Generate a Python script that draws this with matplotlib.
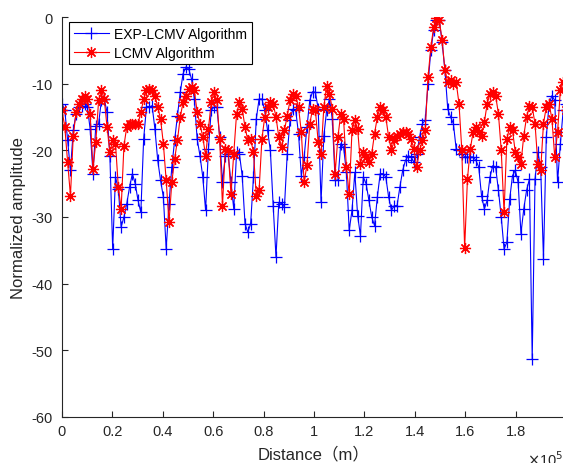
import numpy as np
import matplotlib.pyplot as plt

# normalized amplitude (dB), 180 samples over 0..2e5 m
exp_lcmv = [-13, -14, -18.5, -23, -17, -14.5, -13.5, -13.3, -13, -13.5,
            -16.8, -23.5, -16.3, -16, -12.5, -12.3, -14.3, -20.8, -34.8, -24,
            -25.8, -31.5, -30, -28, -25.5, -23.5, -25, -27.5, -29.3, -18.3,
            -13.5, -13.5, -13.3, -16.8, -21.5, -24.5, -27, -34.8, -28, -22.5,
            -18.5, -14.8, -11.3, -8.5, -7.5, -7.8, -9.3, -12.3, -18.3, -20.8,
            -24, -29, -19.8, -14, -13.5, -13.5, -18, -24.8, -20.8, -20.5,
            -24.8, -28.8, -20.3, -20.5, -23.8, -31, -32.3, -31, -24, -15.3,
            -12.3, -12.3, -14, -17, -20, -28.3, -36, -27.8, -28, -28.5,
            -20.5, -15.5, -13.8, -14, -17.5, -23.8, -21, -16.5, -12.5, -11.2,
            -11.3, -13.8, -27.8, -17.8, -14, -12.3, -15.3, -24.5, -24.5, -19,
            -19.5, -23.3, -32, -29, -23.3, -29.8, -32.8, -24, -25, -27.5,
            -30, -31.3, -27, -23.5, -23.5, -24, -27, -29, -28.3, -28.3,
            -25.5, -23, -21.5, -20.8, -21, -21.8, -20.5, -18, -16, -15.5,
            -10, -5, -2, -0.5, -0.5, -3.8, -8, -13.8, -15, -16,
            -19.8, -20, -20.5, -21, -21, -21, -21, -21.5, -22.5, -26.8,
            -28.8, -27.5, -24, -22.3, -22.5, -26, -30, -34.8, -33.8, -27.3,
            -23.8, -23, -24.8, -32.5, -28.8, -26, -24.3, -51.3, -24.3, -20.3,
            -22.5, -36.3, -18, -13, -11.8, -12.5, -24.8, -19, -14, -13]

lcmv = [-14, -16.5, -21.8, -26.8, -17.8, -14.3, -13, -12.3, -11.8, -12.3,
        -14.5, -22.8, -18.8, -12.5, -11, -12.3, -16.5, -20.3, -18.5, -19,
        -25.5, -28.8, -19.3, -16.5, -16, -16, -16, -16, -14.3, -12.3,
        -11, -10.8, -11, -11.8, -13.5, -15.3, -19, -24.5, -30.8, -24.8,
        -21.3, -18.5, -15, -12.8, -11.8, -10.8, -10.5, -11, -14.3, -16,
        -18, -20.8, -16.8, -12.8, -11.3, -12.5, -18.3, -28.3, -19.8, -20,
        -26.5, -20.5, -14.5, -12.8, -13.8, -16.5, -18.5, -18.3, -20.3, -26.8,
        -26, -18.3, -15, -13.5, -12.8, -13, -15, -18, -19.5, -17,
        -14.8, -12.5, -11.5, -11.8, -13.5, -17.3, -24.8, -22.2, -16, -13.8,
        -14, -18.8, -20.5, -13.5, -10.3, -11.5, -13.8, -23.5, -18, -14.5,
        -15.3, -22.5, -26.5, -17, -15.5, -16.8, -22, -20.3, -21, -21.8,
        -20.5, -17.5, -15, -13.5, -14, -15, -18, -20, -18.5, -17.8,
        -17.5, -17.3, -17.3, -17.5, -18.3, -19.8, -22.5, -20, -18.5, -17,
        -9, -4.5, -1.5, -0.2, -0.5, -3.5, -8, -9.8, -9.5, -10,
        -9.8, -13, -20, -34.7, -24.3, -19.8, -17.3, -16.5, -17.3, -17.8,
        -15.8, -13, -11.5, -11.3, -11.8, -14.5, -20, -29.3, -18.3, -16.5,
        -17, -20.3, -21, -22, -17.8, -15, -13.3, -13.5, -16, -22,
        -23, -16, -13.5, -13, -15.3, -21, -17.3, -11, -9.8, -14]

distance = np.linspace(0, 2e5, len(lcmv))
xtick_labels = ['0', '0.2', '0.4', '0.6', '0.8', '1', '1.2', '1.4', '1.6', '1.8', '2']

plt.rcParams['font.family'] = ['Liberation Sans', 'Noto Sans CJK SC']
plt.rcParams['axes.unicode_minus'] = False
dark = '#262626'

fig = plt.figure(figsize=(5.63, 4.64), dpi=100)
ax = fig.add_axes([62/563, 46/464, 504/563, 400/464])

ax.plot(distance, exp_lcmv, '-+', color='#0000ff', lw=0.8, ms=8, mew=0.9,
        label='EXP-LCMV Algorithm')
# MATLAB-like asterisk marker (8 spokes)
ax.plot(distance, lcmv, '-', marker=(8, 2, 0), color='#ff0000', lw=0.8,
        ms=8, mew=0.9, label='LCMV Algorithm')

ax.set_xlim(0, 2e5)
ax.set_ylim(-60, 0)
ax.set_xticks(np.linspace(0, 2e5, 11))
ax.set_xticklabels(xtick_labels)
ax.set_yticks(np.arange(-60, 1, 10))

for s in ['top', 'right']:
    ax.spines[s].set_visible(False)
for s in ['left', 'bottom']:
    ax.spines[s].set_color(dark)
    ax.spines[s].set_linewidth(0.8)
ax.tick_params(direction='in', length=4, width=0.8, colors=dark,
               labelsize=10.5, labelcolor=dark)
ax.tick_params(axis='x', pad=5)
ax.tick_params(axis='y', pad=7)

ax.set_xlabel('Distance（m）', fontsize=12, color=dark)
ax.xaxis.set_label_coords(0.5, -0.072)
ax.set_ylabel('Normalized amplitude', fontsize=12, color=dark)
ax.yaxis.set_label_coords(-0.072, 0.5)
ax.text(0.923, -0.105, r'$\times$10$^5$', transform=ax.transAxes,
        fontsize=10.5, color=dark, va='center', ha='left')

leg = ax.legend(loc='upper left', bbox_to_anchor=(0.014, 0.988),
                borderaxespad=0, fontsize=10, fancybox=False, framealpha=1,
                edgecolor='black', borderpad=0.35, labelspacing=0.35,
                handlelength=2.5, handletextpad=0.4)
leg.get_frame().set_linewidth(0.8)

fig.savefig('out.png', dpi=100)
